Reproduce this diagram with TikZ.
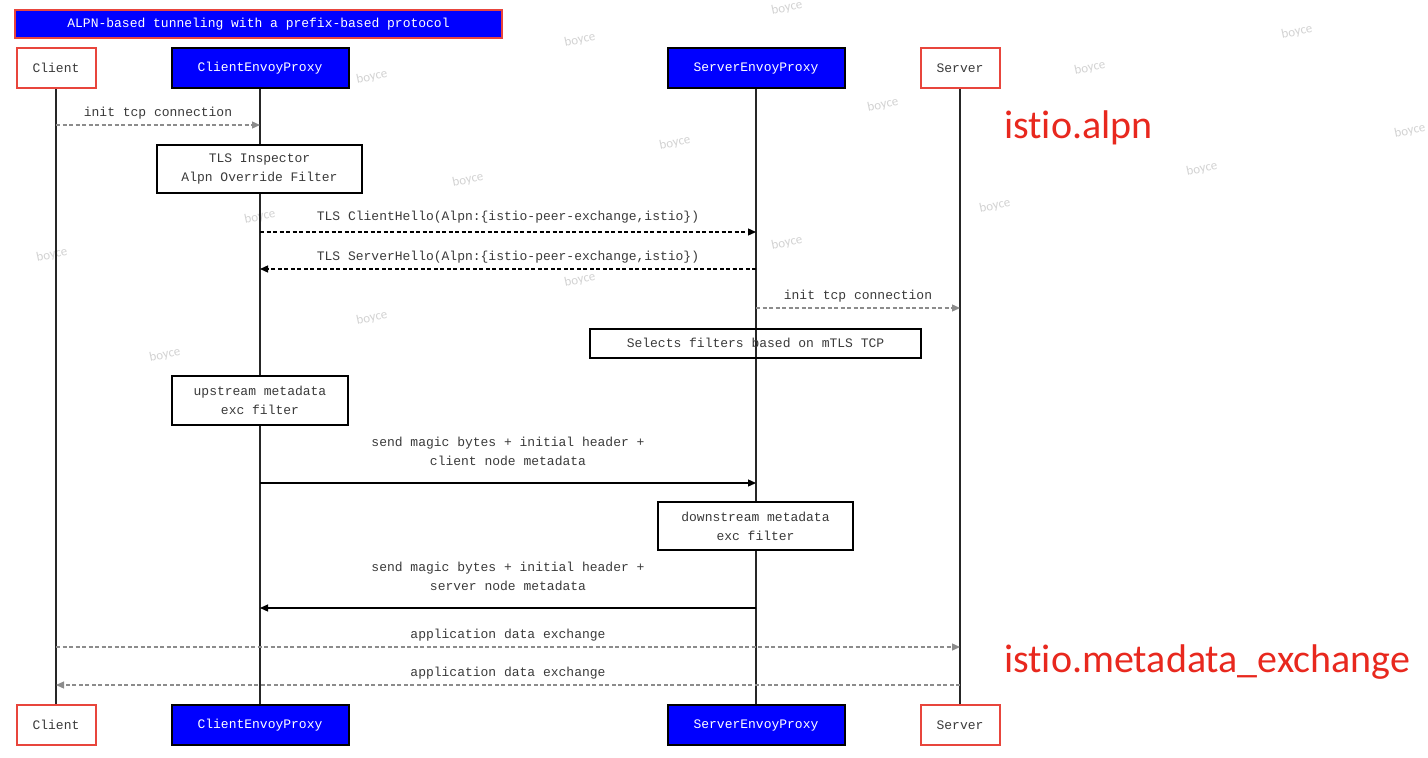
\documentclass[tikz,border=0pt]{standalone}
\usepackage{fontspec}
\setmonofont{Liberation Mono}
\setsansfont{Carlito}[Ligatures=NoCommon]
\usetikzlibrary{arrows.meta,positioning}
\definecolor{boxblue}{HTML}{0000FF}
\definecolor{boxred}{HTML}{E8453C}
\definecolor{tagred}{HTML}{E8281E}
\definecolor{msggray}{HTML}{8C8C8C}
\definecolor{lblgray}{HTML}{3A3A3A}
\definecolor{markgray}{HTML}{D2D2D2}

\tikzset{
  seqfont/.style={font=\ttfamily\fontsize{13}{19}\selectfont},
  actor/.style={seqfont,draw=boxred,line width=2pt,fill=white,text=lblgray,
    minimum width=79pt,minimum height=40pt,inner sep=0pt},
  proxy/.style={seqfont,draw=black,line width=2pt,fill=boxblue,text=white,
    minimum width=177pt,minimum height=40pt,inner sep=0pt},
  filterbox/.style={seqfont,draw=black,line width=2pt,text=lblgray,align=center,inner sep=0pt},
  lifeline/.style={line width=1.8pt,black!85},
  msg/.style={-{Triangle[length=8pt,width=7pt]},line width=1.3pt},
  reply/.style={msg,dash pattern=on 4pt off 2.5pt},
  faint/.style={msg,msggray,dash pattern=on 4pt off 2.5pt},
  msglabel/.style={seqfont,text=lblgray,align=center},
  tag/.style={font=\sffamily\fontsize{40}{45}\selectfont,text=tagred,anchor=west,inner sep=0pt},
  wmark/.style={font=\sffamily\fontsize{13}{15}\selectfont,text=markgray,rotate=12,inner sep=0pt}
}

\begin{document}
\begin{tikzpicture}[x=1pt,y=-1pt]
\useasboundingbox (0,0) rectangle (1428,758);

% watermark
\foreach \px/\py [count=\k] in {52/15,580/40,787/8,1297/32,372/77,1090/68,883/105,675/143,
  1410/131,468/180,1202/169,260/217,995/206,52/255,787/243,580/280,372/318,165/355}
  \node[wmark] (wm\k) at (\px,\py) {boyce};

% title
\node[seqfont,draw=boxred,line width=2pt,fill=boxblue,text=white,minimum width=487pt,
  minimum height=28pt,inner sep=0pt] (title) at (258.5,24) {ALPN-based tunneling with a prefix-based protocol};

% participants
\node[actor] (clitop) at (56,68) {Client};
\node[proxy] (cepTop) at (260,68) {ClientEnvoyProxy};
\node[proxy] (sepTop) at (756,68) {ServerEnvoyProxy};
\node[actor] (srvtop) at (960,68) {Server};
\node[actor] (clibot) at (56,725) {Client};
\node[proxy] (cepBot) at (260,725) {ClientEnvoyProxy};
\node[proxy] (sepBot) at (756,725) {ServerEnvoyProxy};
\node[actor] (srvbot) at (960,725) {Server};

\draw[lifeline] (clitop) -- (clibot);
\draw[lifeline] (cepTop) -- (cepBot);
\draw[lifeline] (sepTop) -- (sepBot);
\draw[lifeline] (srvtop) -- (srvbot);

% filters
\node[filterbox,fill=white,minimum width=205pt,minimum height=48pt] (tlsinsp) at (259.5,169)
  {TLS Inspector\\Alpn Override Filter};
\node[filterbox,minimum width=331pt,minimum height=29pt] (selects) at (755.5,343)
  {Selects filters based on mTLS TCP};
\node[filterbox,fill=white,minimum width=176pt,minimum height=49pt] (upmx) at (260,400.5)
  {upstream metadata\\exc filter};
\node[filterbox,fill=white,minimum width=195pt,minimum height=48pt] (downmx) at (755.5,526)
  {downstream metadata\\exc filter};

% messages
\draw[faint] (clitop.south |- 0,125) -- (cepTop.south |- 0,125)
  node[msglabel,midway,yshift=12pt] {init tcp connection};
\draw[reply] (cepTop.south |- 0,232) -- (sepTop.south |- 0,232)
  node[msglabel,midway,yshift=15pt] {TLS ClientHello(Alpn:\{istio-peer-exchange,istio\})};
\draw[reply] (sepTop.south |- 0,269) -- (cepTop.south |- 0,269)
  node[msglabel,midway,yshift=12pt] {TLS ServerHello(Alpn:\{istio-peer-exchange,istio\})};
\draw[faint] (sepTop.south |- 0,308) -- (srvtop.south |- 0,308)
  node[msglabel,midway,yshift=12pt] {init tcp connection};
\draw[msg] (cepTop.south |- 0,483) -- (sepTop.south |- 0,483)
  node[msglabel,midway,yshift=32pt] {send magic bytes + initial header +\\client node metadata};
\draw[msg] (sepTop.south |- 0,608) -- (cepTop.south |- 0,608)
  node[msglabel,midway,yshift=32pt] {send magic bytes + initial header +\\server node metadata};
\draw[faint] (clitop.south |- 0,647) -- (srvtop.south |- 0,647)
  node[msglabel,midway,yshift=12pt] {application data exchange};
\draw[faint] (srvtop.south |- 0,685) -- (clitop.south |- 0,685)
  node[msglabel,midway,yshift=12pt] {application data exchange};

% plugin names
\node[tag] (alpntag) at (1004,128) {istio.alpn};
\node[tag] (mxtag) at (1004,662) {istio.metadata\_exchange};
\end{tikzpicture}
\end{document}
